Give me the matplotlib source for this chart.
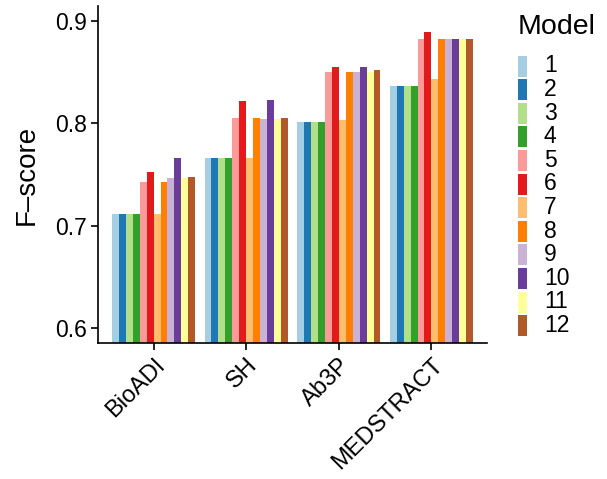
import numpy as np
import matplotlib
matplotlib.use("Agg")
import matplotlib.pyplot as plt
import matplotlib.transforms as mtransforms
from matplotlib.patches import Rectangle

plt.rcParams['font.family'] = ['Liberation Sans', 'DejaVu Sans']

datasets = ['BioADI', 'SH', 'Ab3P', 'MEDSTRACT']
models = [str(i) for i in range(1, 13)]
colors = ['#A6CEE3', '#1F78B4', '#B2DF8A', '#33A02C', '#FB9A99', '#E31A1C',
          '#FDBF6F', '#FF7F00', '#CAB2D6', '#6A3D9A', '#FFFF99', '#B15928']

# F-scores per model for each dataset
bioadi = [0.711, 0.711, 0.711, 0.711, 0.743, 0.752, 0.711, 0.743, 0.747, 0.766, 0.747, 0.748]
sh = [0.766, 0.766, 0.766, 0.766, 0.805, 0.822, 0.766, 0.805, 0.804, 0.823, 0.804, 0.805]
ab3p = [0.801, 0.801, 0.801, 0.801, 0.850, 0.855, 0.803, 0.850, 0.850, 0.855, 0.850, 0.852]
medstract = [0.837, 0.837, 0.837, 0.837, 0.883, 0.890, 0.844, 0.883, 0.883, 0.883, 0.883, 0.883]

scores = np.array([bioadi, sh, ab3p, medstract])

W, H = 607, 479
fig = plt.figure(figsize=(W / 100, H / 100), dpi=100)
ax = fig.add_axes([98 / W, (H - 343) / H, 389 / W, 337 / H])

x = np.arange(1, len(datasets) + 1)
bw = 0.9 / len(models)
for j, m in enumerate(models):
    ax.bar(x - 0.45 + bw * (j + 0.5), scores[:, j], width=bw, color=colors[j], linewidth=0)

ax.set_xlim(0.4, 4.6)
ax.set_ylim(0.585, 0.915)
ax.set_yticks([0.6, 0.7, 0.8, 0.9])
ax.set_yticklabels(['0.6', '0.7', '0.8', '0.9'])
ax.set_xticks(x)
ax.set_xticklabels(datasets, rotation=45, ha='right', va='top', rotation_mode='anchor')
shift = mtransforms.ScaledTranslation(5 / 100, -9 / 100, fig.dpi_scale_trans)
for lab in ax.get_xticklabels():
    lab.set_transform(lab.get_transform() + shift)

for s in ['top', 'right']:
    ax.spines[s].set_visible(False)
for s in ['left', 'bottom']:
    ax.spines[s].set_linewidth(1.2)
ax.tick_params(axis='both', width=1.2, length=5, labelsize=16.5, colors='black', pad=3)
ax.tick_params(axis='x', labelsize=17)
ax.set_ylabel('F\u2013score', fontsize=20, labelpad=11)

# legend, drawn by hand to match spacing
fig.text(518 / W, 1 - 27 / H, 'Model', fontsize=20.5, ha='left', va='center')
for j, m in enumerate(models):
    yc = 66 + 23.6 * j
    fig.add_artist(Rectangle((518 / W, 1 - (yc + 10.5) / H), 9 / W, 21 / H,
                             transform=fig.transFigure, color=colors[j], lw=0))
    fig.text(544 / W, 1 - yc / H, m, fontsize=16.5, ha='left', va='center')

fig.savefig('out.png', dpi=100)
